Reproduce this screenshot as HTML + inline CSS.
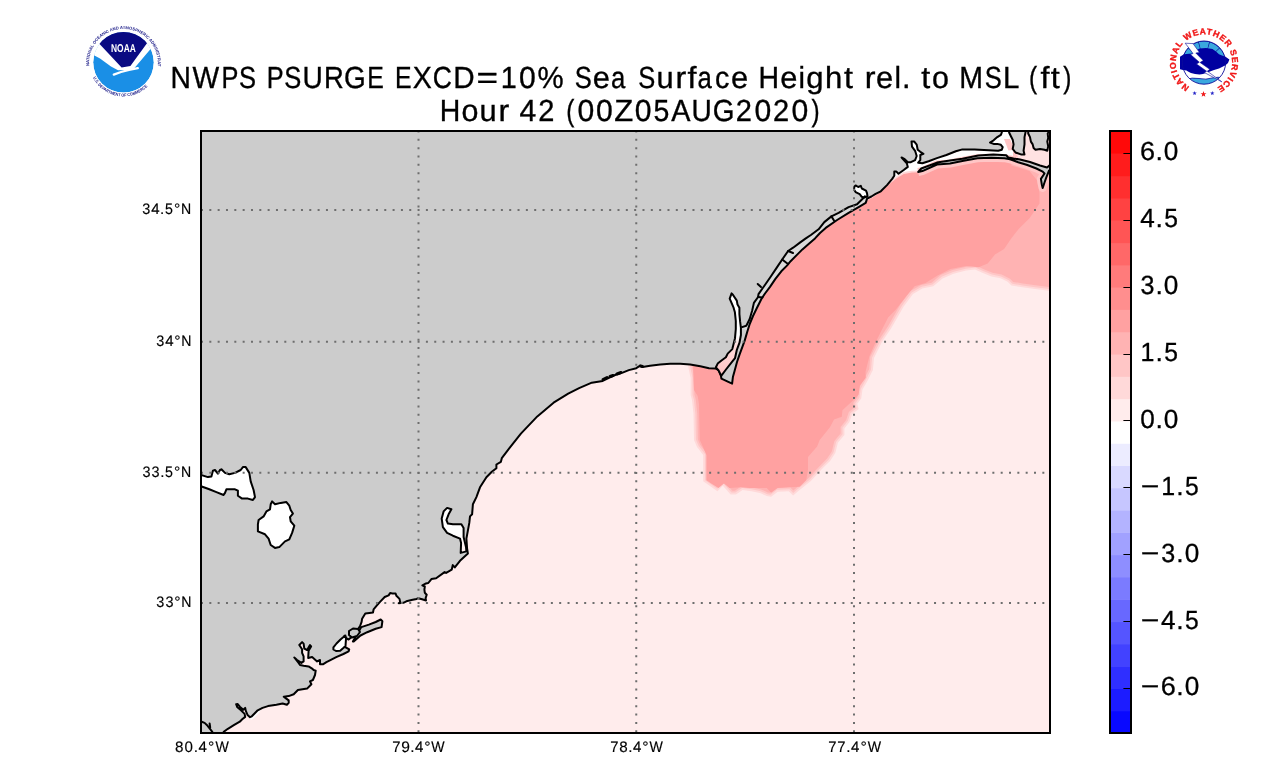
<!DOCTYPE html>
<html><head><meta charset="utf-8"><title>NWPS PSURGE</title><style>html,body{margin:0;padding:0;background:#fff;}svg{display:block;} svg{will-change:transform}</style></head><body>
<svg width="1277" height="770" viewBox="0 0 1277 770" text-rendering="geometricPrecision">
<defs><clipPath id="mc"><rect x="202" y="132" width="847" height="600"/></clipPath><linearGradient id="rv" x1="0" y1="293" x2="0" y2="373" gradientUnits="userSpaceOnUse"><stop offset="0" stop-color="#fff"/><stop offset="0.54" stop-color="#fff"/><stop offset="0.66" stop-color="#ffdcdc"/><stop offset="1" stop-color="#ffc4c4"/></linearGradient><linearGradient id="wb" x1="0" y1="505" x2="0" y2="553" gradientUnits="userSpaceOnUse"><stop offset="0" stop-color="#fff"/><stop offset="0.6" stop-color="#fff"/><stop offset="1" stop-color="#ffecec"/></linearGradient></defs>
<rect width="1277" height="770" fill="#fff"/>
<g clip-path="url(#mc)">
<rect x="200" y="130" width="852" height="605" fill="rgb(255,236,236)"/>
<path d="M688.0,362.0 L688.3,367.0 L690.6,378.0 L690.6,395.0 L692.0,400.0 L693.5,414.0 L694.0,440.0 L697.0,447.0 L703.2,455.0 L703.2,481.3 L710.0,486.0 L717.4,491.2 L722.9,485.7 L730.6,494.5 L736.0,494.5 L742.6,490.1 L751.4,491.2 L760.0,493.0 L766.8,496.1 L771.1,496.7 L777.7,491.7 L788.7,491.2 L793.1,495.6 L799.6,490.1 L810.6,481.3 L821.0,470.0 L824.9,466.1 L830.1,460.9 L835.3,453.1 L837.9,442.7 L844.4,434.9 L844.4,428.4 L849.5,422.0 L852.1,414.2 L858.6,409.0 L857.3,403.8 L861.2,398.6 L862.5,389.5 L867.7,380.4 L872.9,370.0 L874.0,357.9 L881.8,342.3 L891.2,328.3 L897.4,317.4 L903.7,306.4 L913.0,294.0 L922.4,288.5 L933.3,286.2 L942.6,278.4 L953.5,273.7 L966.0,270.6 L975.0,269.5 L982.3,272.7 L991.4,276.4 L1000.5,278.2 L1007.7,281.8 L1011.4,285.5 L1022.3,287.3 L1035.0,289.1 L1049.5,290.9 L1056.0,291.0 L1056.0,120.0 L680.0,120.0 L680.0,362.0 Z" fill="rgb(255,217,217)"/>
<path d="M689.8,360.1 L690.2,366.7 L692.5,377.8 L692.5,394.7 L693.9,399.6 L695.4,413.9 L695.9,439.6 L698.7,446.0 L705.1,454.3 L705.1,480.3 L711.1,484.4 L717.2,488.7 L723.0,482.9 L731.5,492.6 L735.4,492.6 L742.1,488.1 L751.7,489.3 L760.6,491.2 L767.3,494.3 L770.6,494.7 L777.0,489.8 L789.5,489.3 L793.2,493.0 L798.4,488.6 L809.3,479.9 L819.6,468.7 L828.6,459.7 L833.5,452.3 L836.2,441.8 L842.5,434.2 L842.5,427.7 L847.8,421.1 L850.5,413.1 L856.5,408.3 L855.2,403.4 L859.4,397.8 L860.7,388.9 L866.0,379.5 L871.0,369.5 L872.1,357.4 L880.2,341.3 L889.6,327.3 L895.7,316.5 L902.1,305.4 L911.7,292.6 L921.7,286.7 L932.4,284.4 L941.6,276.8 L952.9,271.9 L965.7,268.7 L975.3,267.6 L983.0,270.9 L991.9,274.6 L1001.1,276.4 L1008.8,280.2 L1012.3,283.7 L1022.6,285.4 L1035.3,287.2 L1049.6,289.0 L1054.1,289.1 L1054.1,121.9 L681.9,121.9 L681.9,360.1 L689.8,360.1 Z" fill="rgb(255,198,198)"/>
<path d="M691.6,358.2 L692.1,366.5 L694.4,377.6 L694.4,394.5 L695.7,399.3 L697.3,413.8 L697.8,439.2 L700.3,445.1 L707.0,453.7 L707.0,479.3 L712.2,482.9 L717.0,486.3 L723.1,480.1 L732.3,490.7 L734.8,490.7 L741.7,486.2 L752.0,487.4 L761.2,489.4 L767.9,492.4 L770.1,492.7 L776.3,488.0 L790.2,487.3 L793.3,490.4 L797.2,487.2 L808.0,478.5 L818.3,467.4 L827.1,458.5 L831.8,451.5 L834.4,440.9 L840.6,433.5 L840.6,427.1 L846.1,420.2 L848.8,411.9 L854.3,407.6 L853.2,403.0 L857.6,397.1 L858.8,388.2 L864.3,378.6 L869.2,368.9 L870.3,356.8 L878.5,340.4 L888.0,326.3 L894.1,315.5 L900.5,304.3 L910.4,291.1 L921.0,284.9 L931.6,282.7 L940.6,275.1 L952.3,270.1 L965.3,266.9 L975.6,265.6 L983.8,269.2 L992.5,272.7 L1001.7,274.6 L1010.0,278.7 L1013.2,281.9 L1022.9,283.5 L1035.5,285.3 L1049.8,287.1 L1052.2,287.1 L1052.2,123.8 L683.8,123.8 L683.8,358.2 L691.6,358.2 Z" fill="rgb(255,179,179)"/>
<path d="M693.0,360.0 L693.2,367.0 L693.5,380.0 L694.0,390.0 L697.7,396.0 L699.0,404.0 L699.3,420.0 L699.8,440.0 L703.0,447.0 L706.4,455.0 L706.4,480.2 L712.0,484.0 L718.5,487.9 L724.0,483.5 L729.5,487.9 L740.4,487.3 L749.2,487.9 L766.8,487.9 L771.1,492.8 L777.7,487.9 L788.7,487.3 L799.6,486.8 L806.2,480.2 L808.0,470.0 L808.0,457.0 L817.1,446.6 L819.7,440.1 L830.1,427.1 L834.0,419.4 L841.8,416.8 L842.4,410.3 L850.8,402.5 L858.6,394.7 L859.9,385.6 L865.8,377.8 L865.5,372.0 L869.4,356.3 L875.6,342.3 L883.4,326.7 L888.1,317.4 L895.9,309.6 L906.8,295.5 L914.6,286.2 L925.5,283.1 L938.0,275.3 L950.4,269.0 L966.0,265.9 L978.6,267.3 L987.7,263.6 L995.0,254.5 L1004.1,249.1 L1011.4,238.2 L1018.6,229.1 L1029.5,218.2 L1039.5,203.6 L1039.5,192.7 L1036.8,180.0 L1029.5,170.9 L1011.4,165.5 L1011.0,120.0 L680.0,120.0 L680.0,360.0 Z" fill="rgb(255,161,161)"/>
<path d="M1012.0,126.0 L1056.0,126.0 L1056.0,172.0 L1040.0,166.0 L1013.0,159.0 L1012.0,152.0 Z" fill="#ffe2e2"/>
<path d="M858.0,208.0 L866.0,201.5 L875.7,195.5 L884.0,189.0 L891.3,182.5 L897.0,178.0 L903.8,174.0 L912.0,172.5 L919.5,172.2 L921.0,165.0 L921.0,150.0 L900.0,150.0 L880.0,180.0 L860.0,195.0 Z" fill="rgb(255,217,217)"/>
<path d="M886.0,183.0 L891.3,180.5 L897.0,176.0 L903.8,172.0 L912.0,170.8 L919.5,170.4 L921.0,165.0 L921.0,150.0 L900.0,150.0 L884.0,178.0 Z" fill="#fff"/>
<path d="M249.5,718.5 L254.0,714.5 L258.0,710.8 L261.0,709.5 L259.0,713.0 L255.0,717.0 L251.5,720.0 Z" fill="#fff"/>
<path d="M985.0,126.0 L1012.0,126.0 L1012.0,152.0 L985.0,152.0 Z" fill="#fff"/>
<path d="M1004.0,139.0 L1010.0,139.0 L1018.0,157.0 L1012.0,160.0 Z" fill="rgb(255,198,198)"/>
<path d="M909.0,139.0 L920.0,139.0 L925.0,158.0 L921.0,166.0 L912.0,166.0 Z" fill="#fff"/>
<path d="M916.0,163.0 L930.0,160.0 L946.0,155.5 L962.0,150.0 L975.0,150.0 L989.0,151.0 L1000.0,151.5 L1013.0,150.0 L1013.0,160.0 L1000.0,157.0 L990.0,156.5 L977.0,157.0 L963.0,159.5 L950.0,162.5 L937.0,164.0 L922.0,170.0 Z" fill="#fff"/>
<path d="M223.7,736.0 L223.7,731.8 L227.9,728.8 L233.8,725.2 L239.8,721.7 L242.2,719.3 L245.2,716.9 L244.6,713.9 L241.0,710.3 L237.4,707.3 L236.2,704.3 L237.7,704.0 L239.8,706.7 L243.4,709.7 L245.2,707.9 L245.8,710.9 L247.6,715.1 L250.0,717.2 L251.8,716.3 L254.8,713.3 L257.7,710.3 L262.5,707.9 L268.0,706.1 L276.4,704.8 L282.6,703.5 L286.9,704.8 L288.7,702.9 L288.7,700.4 L286.3,698.6 L283.8,696.7 L288.7,696.1 L293.7,694.3 L297.9,690.0 L307.1,688.6 L311.4,684.3 L310.0,681.4 L312.9,680.0 L315.0,675.0 L315.7,670.7 L313.6,670.0 L312.1,668.6 L308.6,666.4 L303.6,665.7 L300.0,665.0 L298.6,662.9 L294.3,657.5 L297.1,660.0 L301.4,662.9 L303.6,661.4 L303.6,656.4 L302.1,652.9 L302.1,649.3 L299.3,645.0 L302.1,642.1 L303.6,643.6 L304.3,648.6 L307.1,650.0 L310.0,645.0 L311.1,646.4 L308.6,650.7 L308.2,657.9 L312.1,657.1 L317.1,661.4 L320.0,660.0 L320.0,664.3 L322.9,664.3 L326.4,662.1 L329.9,660.3 L336.2,657.1 L343.4,654.0 L348.6,651.4 L349.2,649.4 L346.6,647.8 L344.0,646.5 L344.5,635.8 L346.6,638.4 L348.6,639.5 L351.2,637.4 L351.8,633.2 L353.8,630.6 L358.0,629.1 L360.1,626.0 L361.6,621.8 L362.1,618.7 L365.3,613.5 L369.4,613.0 L373.0,612.5 L373.6,609.4 L376.7,605.7 L379.8,602.1 L384.7,597.0 L388.6,595.4 L390.1,593.1 L392.5,593.5 L395.6,593.5 L396.4,595.8 L399.5,598.9 L400.2,602.1 L398.7,603.2 L403.4,602.8 L407.3,600.9 L412.7,599.7 L416.6,598.9 L418.2,598.2 L422.1,599.3 L426.0,600.5 L425.6,598.2 L426.7,594.7 L424.8,592.7 L424.4,589.6 L424.8,586.5 L422.4,585.3 L426.0,583.4 L428.3,583.0 L431.4,579.1 L436.1,578.3 L444.6,572.1 L446.2,572.9 L451.7,569.7 L452.8,565.1 L454.8,567.4 L460.0,560.8 L467.9,553.6 L467.1,548.6 L466.4,538.6 L469.3,522.9 L470.0,516.4 L472.1,514.3 L472.9,504.3 L476.4,497.1 L480.0,487.3 L486.4,477.3 L491.8,471.8 L496.4,468.2 L496.4,464.5 L500.9,461.8 L501.8,458.2 L510.0,447.3 L520.9,433.6 L537.3,416.4 L553.6,402.7 L568.2,393.6 L579.1,388.2 L591.8,382.7 L602.7,380.9 L610.0,377.3 L616.3,374.5 L622.6,372.6 L628.8,370.1 L636.3,368.2 L640.1,365.7 L642.6,367.0 L650.1,365.7 L660.2,364.5 L670.2,363.8 L680.2,363.8 L690.2,364.5 L700.3,366.3 L709.0,368.2 L715.7,368.6 L718.6,370.0 L721.0,376.0 L721.4,378.6 L732.1,383.6 L732.9,377.1 L734.5,371.3 L737.0,362.0 L739.6,354.4 L744.6,340.9 L747.5,331.0 L749.7,324.0 L753.0,316.0 L756.5,308.8 L761.5,298.7 L765.0,293.5 L770.0,286.9 L775.4,278.9 L781.3,271.3 L787.2,265.4 L790.6,261.2 L797.4,254.4 L802.4,249.4 L809.2,243.4 L815.0,238.4 L820.0,233.0 L825.7,227.9 L837.1,220.0 L848.6,212.9 L858.6,207.1 L865.7,202.9 L867.1,198.6 L871.4,196.5 L875.6,193.9 L880.8,191.3 L887.0,185.1 L892.2,178.9 L894.3,175.7 L894.3,171.6 L896.4,171.6 L898.5,173.7 L903.7,170.0 L907.8,166.9 L906.8,163.3 L901.6,157.5 L904.7,159.1 L907.8,162.2 L910.9,162.2 L915.1,160.1 L916.7,156.0 L915.1,150.8 L912.0,146.6 L911.5,141.4 L914.1,141.4 L916.7,144.6 L917.7,149.8 L920.3,151.8 L923.4,153.9 L920.3,155.0 L920.3,160.1 L918.2,162.7 L922.4,163.3 L928.6,161.2 L936.9,158.1 L946.4,155.0 L955.8,151.3 L962.4,149.4 L974.6,149.4 L988.7,150.3 L998.2,150.7 L1001.8,149.8 L1002.7,147.1 L1000.9,144.8 L997.3,143.9 L993.6,143.9 L990.0,142.5 L993.6,140.3 L997.3,137.1 L1000.9,134.8 L1001.8,132.5 L1002.0,126.0 L1009.1,126.0 L1009.1,132.5 L1010.9,136.2 L1012.7,139.8 L1013.6,144.4 L1012.7,148.9 L1015.5,152.5 L1020.9,154.4 L1024.5,154.4 L1023.6,150.7 L1024.5,144.4 L1024.5,137.1 L1025.5,132.5 L1025.5,126.0 L1028.2,126.0 L1028.2,133.5 L1030.0,137.1 L1030.9,141.6 L1032.7,144.4 L1033.6,148.0 L1035.5,149.8 L1040.0,148.9 L1044.5,149.8 L1047.3,150.7 L1048.2,146.2 L1047.3,141.6 L1048.2,138.0 L1047.7,133.5 L1049.0,131.6 L1056.0,131.6 L1056.0,120.0 L190.0,120.0 L190.0,736.0 Z" fill="#cccccc"/>
<path d="M741.3,327.4 L746.3,325.7 L749.7,319.0 L752.2,310.5 L753.9,302.9 L758.1,297.0 L758.5,294.1 L764.4,285.7 L770.3,277.2 L777.1,267.1 L782.2,259.5 L788.1,251.0 L793.1,247.7 L799.9,242.6 L805.8,238.4 L810.9,235.0 L818.6,229.3 L824.3,222.1 L831.4,216.4 L838.6,212.9 L848.6,207.1 L857.1,204.3 L861.4,200.0 L865.7,195.7 L867.1,198.6 L865.7,202.9 L858.6,207.1 L848.6,212.9 L837.1,220.0 L825.7,227.9 L820.0,233.0 L815.0,238.4 L809.2,243.4 L802.4,249.4 L797.4,254.4 L790.6,261.2 L787.2,265.4 L781.3,271.3 L775.4,278.9 L770.0,286.9 L765.0,293.5 L761.5,298.7 L756.5,308.8 L753.0,316.0 L749.7,324.0 L747.5,331.0 Z" fill="#dadada"/>
<path d="M223.7,736.0 L223.7,731.8 L227.9,728.8 L233.8,725.2 L239.8,721.7 L242.2,719.3 L245.2,716.9 L244.6,713.9 L241.0,710.3 L237.4,707.3 L236.2,704.3 L237.7,704.0 L239.8,706.7 L243.4,709.7 L245.2,707.9 L245.8,710.9 L247.6,715.1 L250.0,717.2 L251.8,716.3 L254.8,713.3 L257.7,710.3 L262.5,707.9 L268.0,706.1 L276.4,704.8 L282.6,703.5 L286.9,704.8 L288.7,702.9 L288.7,700.4 L286.3,698.6 L283.8,696.7 L288.7,696.1 L293.7,694.3 L297.9,690.0 L307.1,688.6 L311.4,684.3 L310.0,681.4 L312.9,680.0 L315.0,675.0 L315.7,670.7 L313.6,670.0 L312.1,668.6 L308.6,666.4 L303.6,665.7 L300.0,665.0 L298.6,662.9 L294.3,657.5 L297.1,660.0 L301.4,662.9 L303.6,661.4 L303.6,656.4 L302.1,652.9 L302.1,649.3 L299.3,645.0 L302.1,642.1 L303.6,643.6 L304.3,648.6 L307.1,650.0 L310.0,645.0 L311.1,646.4 L308.6,650.7 L308.2,657.9 L312.1,657.1 L317.1,661.4 L320.0,660.0 L320.0,664.3 L322.9,664.3 L326.4,662.1 L329.9,660.3 L336.2,657.1 L343.4,654.0 L348.6,651.4 L349.2,649.4 L346.6,647.8 L344.0,646.5 L344.5,635.8 L346.6,638.4 L348.6,639.5 L351.2,637.4 L351.8,633.2 L353.8,630.6 L358.0,629.1 L360.1,626.0 L361.6,621.8 L362.1,618.7 L365.3,613.5 L369.4,613.0 L373.0,612.5 L373.6,609.4 L376.7,605.7 L379.8,602.1 L384.7,597.0 L388.6,595.4 L390.1,593.1 L392.5,593.5 L395.6,593.5 L396.4,595.8 L399.5,598.9 L400.2,602.1 L398.7,603.2 L403.4,602.8 L407.3,600.9 L412.7,599.7 L416.6,598.9 L418.2,598.2 L422.1,599.3 L426.0,600.5 L425.6,598.2 L426.7,594.7 L424.8,592.7 L424.4,589.6 L424.8,586.5 L422.4,585.3 L426.0,583.4 L428.3,583.0 L431.4,579.1 L436.1,578.3 L444.6,572.1 L446.2,572.9 L451.7,569.7 L452.8,565.1 L454.8,567.4 L460.0,560.8 L467.9,553.6 L467.1,548.6 L466.4,538.6 L469.3,522.9 L470.0,516.4 L472.1,514.3 L472.9,504.3 L476.4,497.1 L480.0,487.3 L486.4,477.3 L491.8,471.8 L496.4,468.2 L496.4,464.5 L500.9,461.8 L501.8,458.2 L510.0,447.3 L520.9,433.6 L537.3,416.4 L553.6,402.7 L568.2,393.6 L579.1,388.2 L591.8,382.7 L602.7,380.9 L610.0,377.3 L616.3,374.5 L622.6,372.6 L628.8,370.1 L636.3,368.2 L640.1,365.7 L642.6,367.0 L650.1,365.7 L660.2,364.5 L670.2,363.8 L680.2,363.8 L690.2,364.5 L700.3,366.3 L709.0,368.2 L715.7,368.6 L718.6,370.0 L721.0,376.0 L721.4,378.6 L732.1,383.6 L732.9,377.1 L734.5,371.3 L737.0,362.0 L739.6,354.4 L744.6,340.9 L747.5,331.0 L749.7,324.0 L753.0,316.0 L756.5,308.8 L761.5,298.7 L765.0,293.5 L770.0,286.9 L775.4,278.9 L781.3,271.3 L787.2,265.4 L790.6,261.2 L797.4,254.4 L802.4,249.4 L809.2,243.4 L815.0,238.4 L820.0,233.0 L825.7,227.9 L837.1,220.0 L848.6,212.9 L858.6,207.1 L865.7,202.9 L867.1,198.6 L871.4,196.5 L875.6,193.9 L880.8,191.3 L887.0,185.1 L892.2,178.9 L894.3,175.7 L894.3,171.6 L896.4,171.6 L898.5,173.7 L903.7,170.0 L907.8,166.9 L906.8,163.3 L901.6,157.5 L904.7,159.1 L907.8,162.2 L910.9,162.2 L915.1,160.1 L916.7,156.0 L915.1,150.8 L912.0,146.6 L911.5,141.4 L914.1,141.4 L916.7,144.6 L917.7,149.8 L920.3,151.8 L923.4,153.9 L920.3,155.0 L920.3,160.1 L918.2,162.7 L922.4,163.3 L928.6,161.2 L936.9,158.1 L946.4,155.0 L955.8,151.3 L962.4,149.4 L974.6,149.4 L988.7,150.3 L998.2,150.7 L1001.8,149.8 L1002.7,147.1 L1000.9,144.8 L997.3,143.9 L993.6,143.9 L990.0,142.5 L993.6,140.3 L997.3,137.1 L1000.9,134.8 L1001.8,132.5 L1002.0,126.0 L1009.1,126.0 L1009.1,132.5 L1010.9,136.2 L1012.7,139.8 L1013.6,144.4 L1012.7,148.9 L1015.5,152.5 L1020.9,154.4 L1024.5,154.4 L1023.6,150.7 L1024.5,144.4 L1024.5,137.1 L1025.5,132.5 L1025.5,126.0 L1028.2,126.0 L1028.2,133.5 L1030.0,137.1 L1030.9,141.6 L1032.7,144.4 L1033.6,148.0 L1035.5,149.8 L1040.0,148.9 L1044.5,149.8 L1047.3,150.7 L1048.2,146.2 L1047.3,141.6 L1048.2,138.0 L1047.7,133.5 L1049.0,131.6 L1056.0,131.6 L1056.0,120.0 L190.0,120.0 L190.0,736.0 Z" fill="none" stroke="#000" stroke-width="2" stroke-linejoin="round"/>
<path d="M782.2,259.5 L788.0,264.0" fill="none" stroke="#000" stroke-width="2" stroke-linecap="round"/>
<path d="M758.1,297.0 L762.5,297.5" fill="none" stroke="#000" stroke-width="2" stroke-linecap="round"/>
<path d="M788.1,251.0 L793.0,253.0" fill="none" stroke="#000" stroke-width="2" stroke-linecap="round"/>
<path d="M757.7,284.0 L761.0,287.0" fill="none" stroke="#000" stroke-width="2" stroke-linecap="round"/>
<path d="M831.4,216.4 L834.0,220.5" fill="none" stroke="#000" stroke-width="2" stroke-linecap="round"/>
<path d="M345.5,646.0 L343.6,647.8 L340.2,650.7 L336.0,651.0 L333.4,649.5 L333.4,647.4 L336.5,643.5 L340.5,639.5 L345.3,635.5 L346.0,638.9 Z" fill="#fff" stroke="#000" stroke-width="2" stroke-linejoin="round"/>
<path d="M352.9,641.5 L356.0,636.0 L361.3,627.1 L368.9,624.6 L375.7,622.0 L380.7,619.5 L382.4,621.2 L381.6,627.1 L375.7,628.8 L367.2,632.2 L360.5,635.5 L353.7,641.5 Z" fill="#cccccc" stroke="#000" stroke-width="2" stroke-linejoin="round"/>
<path d="M349.0,631.0 L353.0,628.5 L358.0,629.0 L360.0,632.0 L357.0,636.0 L352.0,637.5 L349.0,635.0 Z" fill="#cccccc" stroke="#000" stroke-width="2" stroke-linejoin="round"/>
<path d="M466.4,551.4 L460.7,552.9 L461.1,542.9 L460.0,538.6 L452.9,535.7 L447.1,532.9 L442.9,527.1 L441.7,518.6 L443.6,511.4 L447.1,507.9 L451.4,509.3 L448.6,514.3 L446.4,520.0 L447.9,523.6 L452.9,524.3 L461.4,524.3 L463.6,527.9 L463.6,537.1 L466.0,547.0 Z" fill="url(#wb)" stroke="#000" stroke-width="2" stroke-linejoin="round"/>
<path d="M718.6,370.5 L715.9,367.3 L717.7,363.6 L721.5,360.5 L725.9,357.3 L727.7,353.6 L732.3,349.1 L733.2,345.5 L735.0,338.2 L735.8,329.0 L735.8,321.0 L734.9,312.3 L733.6,307.7 L729.7,298.6 L731.6,293.4 L732.9,294.7 L736.8,300.6 L737.5,304.5 L739.4,307.7 L739.4,314.2 L740.1,321.4 L740.9,328.0 L740.9,335.0 L739.5,342.7 L736.8,350.0 L735.0,358.2 L731.4,362.7 L726.0,369.5 L721.2,375.8 Z" fill="url(#rv)" stroke="#000" stroke-width="2" stroke-linejoin="round"/>
<path d="M1056.0,172.0 L1049.1,170.5 L1046.4,177.1 L1044.5,182.5 L1042.7,188.0 L1041.8,184.4 L1040.9,178.9 L1044.5,173.5 L1042.7,171.6 L1036.4,168.5 L1027.3,165.0 L1018.2,162.2 L1013.6,160.5 L1010.0,159.3 L1004.5,158.2 L990.9,157.8 L977.3,158.2 L963.6,160.8 L950.0,163.5 L937.0,164.5 L922.4,171.1 L918.2,172.0" fill="none" stroke="rgb(255,198,198)" stroke-width="8" stroke-linejoin="round"/>
<path d="M918.2,172.0 L921.3,168.5 L936.9,162.6 L950.0,160.5 L962.4,158.8 L978.3,155.5 L993.4,154.6 L1006.4,155.3 L1008.2,157.5 L1013.6,158.5 L1020.0,159.5 L1030.0,162.0 L1040.0,165.5 L1047.0,167.5 L1056.0,160.0 L1056.0,172.0 L1049.1,170.5 L1046.4,177.1 L1044.5,182.5 L1042.7,188.0 L1041.8,184.4 L1040.9,178.9 L1044.5,173.5 L1042.7,171.6 L1036.4,168.5 L1027.3,165.0 L1018.2,162.2 L1013.6,160.5 L1010.0,159.3 L1004.5,158.2 L990.9,157.8 L977.3,158.2 L963.6,160.8 L950.0,163.5 L937.0,164.5 L922.4,171.1 Z" fill="#cccccc" stroke="#000" stroke-width="2" stroke-linejoin="round"/>
<path d="M854.5,186.4 L855.6,185.4 L858.2,187.0 L860.8,185.9 L861.8,188.5 L866.0,190.6 L867.0,193.2 L867.5,196.5 L864.0,197.5 L861.8,196.8 L859.7,194.2 L855.6,192.1 L854.0,189.5 Z" fill="#fff" stroke="#000" stroke-width="2" stroke-linejoin="round"/>
<path d="M741.3,327.4 L746.3,325.7 L749.7,319.0 L752.2,310.5 L753.9,302.9 L758.1,297.0 L758.5,294.1 L764.4,285.7 L770.3,277.2 L777.1,267.1 L782.2,259.5 L788.1,251.0 L793.1,247.7 L799.9,242.6 L805.8,238.4 L810.9,235.0 L818.6,229.3 L824.3,222.1 L831.4,216.4 L838.6,212.9 L848.6,207.1 L857.1,204.3 L861.4,200.0 L865.7,195.7" fill="none" stroke="#000" stroke-width="2" stroke-linejoin="round"/>
<path d="M200.0,721.5 L201.6,721.7 L204.6,722.9 L207.6,725.8 L210.0,728.8 L212.3,731.8 L213.0,735.0" fill="none" stroke="#000" stroke-width="2" stroke-linejoin="round"/>
<path d="M209.6,723.5 L210.2,727.5" fill="none" stroke="#000" stroke-width="2" stroke-linecap="round"/>
<path d="M603.0,379.5 L607.0,377.5" fill="none" stroke="#000" stroke-width="3" stroke-linecap="round"/>
<path d="M610.0,376.5 L613.0,375.5" fill="none" stroke="#000" stroke-width="3" stroke-linecap="round"/>
<path d="M617.0,374.0 L621.0,372.5" fill="none" stroke="#000" stroke-width="3" stroke-linecap="round"/>
<path d="M640.5,366.0 L642.5,366.5" fill="none" stroke="#000" stroke-width="3" stroke-linecap="round"/>
<path d="M198.0,475.0 L201.4,475.0 L207.9,477.1 L211.4,476.4 L212.9,470.7 L215.0,470.0 L217.9,473.6 L220.0,470.0 L221.4,469.3 L225.0,472.9 L229.3,474.3 L235.0,472.9 L240.7,470.0 L242.9,467.1 L245.7,467.1 L249.3,472.9 L250.7,481.4 L253.6,490.0 L255.0,497.1 L252.9,500.0 L247.9,498.6 L242.1,498.6 L237.9,495.7 L237.9,490.7 L235.0,489.3 L226.4,489.3 L225.0,492.9 L223.6,495.0 L216.4,492.1 L209.3,489.3 L201.4,486.4 L198.0,485.0 Z" fill="#fff" stroke="#000" stroke-width="2" stroke-linejoin="round"/>
<path d="M272.1,501.4 L275.0,504.3 L280.7,502.9 L286.4,502.1 L289.3,505.7 L290.7,510.0 L292.9,513.6 L290.0,517.1 L290.7,521.4 L294.3,525.7 L292.1,532.9 L289.3,539.3 L285.0,541.4 L279.3,547.1 L275.0,547.9 L270.7,545.0 L268.6,538.6 L265.0,534.3 L257.9,531.4 L257.9,524.3 L258.6,520.0 L263.6,516.4 L266.4,511.4 L270.0,509.3 L270.7,504.3 Z" fill="#fff" stroke="#000" stroke-width="2" stroke-linejoin="round"/>
<g stroke="#6e6e6e" stroke-width="2" stroke-dasharray="2 6.33"><line x1="418.5" y1="130.5" x2="418.5" y2="733" /><line x1="636.25" y1="130.5" x2="636.25" y2="733" /><line x1="854" y1="130.5" x2="854" y2="733" /><line x1="201" y1="210" x2="1050" y2="210" /><line x1="201" y1="341.7" x2="1050" y2="341.7" /><line x1="201" y1="472.7" x2="1050" y2="472.7" /><line x1="201" y1="602.9" x2="1050" y2="602.9" /></g>
</g>
<rect x="201" y="131" width="849" height="602" fill="none" stroke="#000" stroke-width="2"/>
<rect x="1110" y="710.70" width="21" height="22.90" fill="rgb(9,9,255)"/><rect x="1110" y="688.41" width="21" height="22.90" fill="rgb(28,28,255)"/><rect x="1110" y="666.11" width="21" height="22.90" fill="rgb(47,47,255)"/><rect x="1110" y="643.81" width="21" height="22.90" fill="rgb(66,66,255)"/><rect x="1110" y="621.52" width="21" height="22.90" fill="rgb(85,85,255)"/><rect x="1110" y="599.22" width="21" height="22.90" fill="rgb(104,104,255)"/><rect x="1110" y="576.93" width="21" height="22.90" fill="rgb(123,123,255)"/><rect x="1110" y="554.63" width="21" height="22.90" fill="rgb(142,142,255)"/><rect x="1110" y="532.33" width="21" height="22.90" fill="rgb(161,161,255)"/><rect x="1110" y="510.04" width="21" height="22.90" fill="rgb(179,179,255)"/><rect x="1110" y="487.74" width="21" height="22.90" fill="rgb(198,198,255)"/><rect x="1110" y="465.44" width="21" height="22.90" fill="rgb(217,217,255)"/><rect x="1110" y="443.15" width="21" height="22.90" fill="rgb(236,236,255)"/><rect x="1110" y="420.85" width="21" height="22.90" fill="rgb(255,255,255)"/><rect x="1110" y="398.56" width="21" height="22.90" fill="rgb(255,236,236)"/><rect x="1110" y="376.26" width="21" height="22.90" fill="rgb(255,217,217)"/><rect x="1110" y="353.96" width="21" height="22.90" fill="rgb(255,198,198)"/><rect x="1110" y="331.67" width="21" height="22.90" fill="rgb(255,179,179)"/><rect x="1110" y="309.37" width="21" height="22.90" fill="rgb(255,161,161)"/><rect x="1110" y="287.07" width="21" height="22.90" fill="rgb(255,142,142)"/><rect x="1110" y="264.78" width="21" height="22.90" fill="rgb(255,123,123)"/><rect x="1110" y="242.48" width="21" height="22.90" fill="rgb(255,104,104)"/><rect x="1110" y="220.19" width="21" height="22.90" fill="rgb(255,85,85)"/><rect x="1110" y="197.89" width="21" height="22.90" fill="rgb(255,66,66)"/><rect x="1110" y="175.59" width="21" height="22.90" fill="rgb(255,47,47)"/><rect x="1110" y="153.30" width="21" height="22.90" fill="rgb(255,28,28)"/><rect x="1110" y="131.00" width="21" height="22.90" fill="rgb(255,9,9)"/>
<line x1="1123.4" y1="153.50" x2="1131" y2="153.50" stroke="#000" stroke-width="1"/><line x1="1123.4" y1="220.50" x2="1131" y2="220.50" stroke="#000" stroke-width="1"/><line x1="1123.4" y1="287.50" x2="1131" y2="287.50" stroke="#000" stroke-width="1"/><line x1="1123.4" y1="354.50" x2="1131" y2="354.50" stroke="#000" stroke-width="1"/><line x1="1123.4" y1="420.50" x2="1131" y2="420.50" stroke="#000" stroke-width="1"/><line x1="1123.4" y1="487.50" x2="1131" y2="487.50" stroke="#000" stroke-width="1"/><line x1="1123.4" y1="554.50" x2="1131" y2="554.50" stroke="#000" stroke-width="1"/><line x1="1123.4" y1="621.50" x2="1131" y2="621.50" stroke="#000" stroke-width="1"/><line x1="1123.4" y1="688.50" x2="1131" y2="688.50" stroke="#000" stroke-width="1"/>
<rect x="1110" y="131" width="21" height="602" fill="none" stroke="#000" stroke-width="2"/>
<g font-family="'Liberation Sans', sans-serif" font-size="26.29" stroke="#000" stroke-width="0.3"><text transform="matrix(1.0293,0,0,1,1139.93,0)" y="160.30">6</text><text transform="matrix(1.0122,0,0,1,1155.58,0)" y="160.30">.</text><text transform="matrix(0.9947,0,0,1,1163.85,0)" y="160.30">0</text></g>
<g font-family="'Liberation Sans', sans-serif" font-size="26.29" stroke="#000" stroke-width="0.3"><text transform="matrix(0.9939,0,0,1,1140.18,0)" y="227.19">4</text><text transform="matrix(1.0122,0,0,1,1155.58,0)" y="227.19">.</text><text transform="matrix(0.9394,0,0,1,1164.15,0)" y="227.19">5</text></g>
<g font-family="'Liberation Sans', sans-serif" font-size="26.29" stroke="#000" stroke-width="0.3"><text transform="matrix(0.9553,0,0,1,1140.50,0)" y="294.07">3</text><text transform="matrix(1.0122,0,0,1,1155.58,0)" y="294.07">.</text><text transform="matrix(0.9947,0,0,1,1163.85,0)" y="294.07">0</text></g>
<g font-family="'Liberation Sans', sans-serif" font-size="26.29" stroke="#000" stroke-width="0.3"><text transform="matrix(0.9500,0,0,1,1140.40,0)" y="360.96">1</text><text transform="matrix(1.0122,0,0,1,1155.58,0)" y="360.96">.</text><text transform="matrix(0.9394,0,0,1,1164.15,0)" y="360.96">5</text></g>
<g font-family="'Liberation Sans', sans-serif" font-size="26.29" stroke="#000" stroke-width="0.3"><text transform="matrix(0.9947,0,0,1,1140.19,0)" y="427.85">0</text><text transform="matrix(1.0122,0,0,1,1155.58,0)" y="427.85">.</text><text transform="matrix(0.9947,0,0,1,1163.85,0)" y="427.85">0</text></g>
<g font-family="'Liberation Sans', sans-serif" font-size="26.29" stroke="#000" stroke-width="0.3"><text transform="matrix(1.2152,0,0,1,1140.63,0)" y="494.74">−</text><text transform="matrix(0.9500,0,0,1,1161.18,0)" y="494.74">1</text><text transform="matrix(1.0122,0,0,1,1176.36,0)" y="494.74">.</text><text transform="matrix(0.9394,0,0,1,1184.93,0)" y="494.74">5</text></g>
<g font-family="'Liberation Sans', sans-serif" font-size="26.29" stroke="#000" stroke-width="0.3"><text transform="matrix(1.2152,0,0,1,1140.63,0)" y="561.63">−</text><text transform="matrix(0.9553,0,0,1,1161.28,0)" y="561.63">3</text><text transform="matrix(1.0122,0,0,1,1176.36,0)" y="561.63">.</text><text transform="matrix(0.9947,0,0,1,1184.63,0)" y="561.63">0</text></g>
<g font-family="'Liberation Sans', sans-serif" font-size="26.29" stroke="#000" stroke-width="0.3"><text transform="matrix(1.2152,0,0,1,1140.63,0)" y="628.52">−</text><text transform="matrix(0.9939,0,0,1,1160.97,0)" y="628.52">4</text><text transform="matrix(1.0122,0,0,1,1176.36,0)" y="628.52">.</text><text transform="matrix(0.9394,0,0,1,1184.93,0)" y="628.52">5</text></g>
<g font-family="'Liberation Sans', sans-serif" font-size="26.29" stroke="#000" stroke-width="0.3"><text transform="matrix(1.2152,0,0,1,1140.63,0)" y="695.41">−</text><text transform="matrix(1.0293,0,0,1,1160.71,0)" y="695.41">6</text><text transform="matrix(1.0122,0,0,1,1176.36,0)" y="695.41">.</text><text transform="matrix(0.9947,0,0,1,1184.63,0)" y="695.41">0</text></g>
<g font-family="'Liberation Sans', sans-serif" font-size="15.13" stroke="#000" stroke-width="0.15"><text transform="matrix(0.9553,0,0,1,142.35,0)" y="214.20">3</text><text transform="matrix(0.9939,0,0,1,151.25,0)" y="214.20">4</text><text transform="matrix(1.0122,0,0,1,160.10,0)" y="214.20">.</text><text transform="matrix(0.9394,0,0,1,165.04,0)" y="214.20">5</text><text transform="matrix(1.0445,0,0,1,174.00,0)" y="214.20">°</text><text transform="matrix(0.9316,0,0,1,180.97,0)" y="214.20">N</text></g>
<g font-family="'Liberation Sans', sans-serif" font-size="15.13" stroke="#000" stroke-width="0.15"><text transform="matrix(0.9553,0,0,1,156.35,0)" y="346.00">3</text><text transform="matrix(0.9939,0,0,1,165.18,0)" y="346.00">4</text><text transform="matrix(1.0445,0,0,1,174.25,0)" y="346.00">°</text><text transform="matrix(0.9316,0,0,1,181.17,0)" y="346.00">N</text></g>
<g font-family="'Liberation Sans', sans-serif" font-size="15.13" stroke="#000" stroke-width="0.15"><text transform="matrix(0.9553,0,0,1,142.40,0)" y="477.00">3</text><text transform="matrix(0.9553,0,0,1,151.48,0)" y="477.00">3</text><text transform="matrix(1.0122,0,0,1,160.15,0)" y="477.00">.</text><text transform="matrix(0.9394,0,0,1,165.08,0)" y="477.00">5</text><text transform="matrix(1.0445,0,0,1,174.04,0)" y="477.00">°</text><text transform="matrix(0.9316,0,0,1,181.01,0)" y="477.00">N</text></g>
<g font-family="'Liberation Sans', sans-serif" font-size="15.13" stroke="#000" stroke-width="0.15"><text transform="matrix(0.9553,0,0,1,156.35,0)" y="607.00">3</text><text transform="matrix(0.9553,0,0,1,165.40,0)" y="607.00">3</text><text transform="matrix(1.0445,0,0,1,174.32,0)" y="607.00">°</text><text transform="matrix(0.9316,0,0,1,181.27,0)" y="607.00">N</text></g>
<g font-family="'Liberation Sans', sans-serif" font-size="15.16" stroke="#000" stroke-width="0.15"><text transform="matrix(1.0036,0,0,1,175.05,0)" y="751.70">8</text><text transform="matrix(0.9947,0,0,1,184.49,0)" y="751.70">0</text><text transform="matrix(1.0122,0,0,1,193.67,0)" y="751.70">.</text><text transform="matrix(0.9939,0,0,1,198.59,0)" y="751.70">4</text><text transform="matrix(1.0445,0,0,1,208.05,0)" y="751.70">°</text><text transform="matrix(0.9313,0,0,1,215.43,0)" y="751.70">W</text></g>
<g font-family="'Liberation Sans', sans-serif" font-size="15.16" stroke="#000" stroke-width="0.15"><text transform="matrix(0.9724,0,0,1,392.30,0)" y="751.70">7</text><text transform="matrix(1.0271,0,0,1,401.16,0)" y="751.70">9</text><text transform="matrix(1.0122,0,0,1,410.23,0)" y="751.70">.</text><text transform="matrix(0.9939,0,0,1,415.01,0)" y="751.70">4</text><text transform="matrix(1.0445,0,0,1,424.17,0)" y="751.70">°</text><text transform="matrix(0.9313,0,0,1,431.33,0)" y="751.70">W</text></g>
<g font-family="'Liberation Sans', sans-serif" font-size="15.16" stroke="#000" stroke-width="0.15"><text transform="matrix(0.9724,0,0,1,610.15,0)" y="751.70">7</text><text transform="matrix(1.0036,0,0,1,619.22,0)" y="751.70">8</text><text transform="matrix(1.0122,0,0,1,628.20,0)" y="751.70">.</text><text transform="matrix(0.9939,0,0,1,633.01,0)" y="751.70">4</text><text transform="matrix(1.0445,0,0,1,642.23,0)" y="751.70">°</text><text transform="matrix(0.9313,0,0,1,649.43,0)" y="751.70">W</text></g>
<g font-family="'Liberation Sans', sans-serif" font-size="15.16" stroke="#000" stroke-width="0.15"><text transform="matrix(0.9724,0,0,1,828.15,0)" y="751.70">7</text><text transform="matrix(0.9724,0,0,1,837.36,0)" y="751.70">7</text><text transform="matrix(1.0122,0,0,1,846.29,0)" y="751.70">.</text><text transform="matrix(0.9939,0,0,1,851.12,0)" y="751.70">4</text><text transform="matrix(1.0445,0,0,1,860.39,0)" y="751.70">°</text><text transform="matrix(0.9313,0,0,1,867.63,0)" y="751.70">W</text></g>
<g font-family="'Liberation Sans', sans-serif" font-size="30.50" stroke="#000" stroke-width="0.35"><text transform="matrix(0.9260,0,0,1,170.48,0)" y="87.85">N</text><text transform="matrix(0.9257,0,0,1,192.62,0)" y="87.85">W</text><text transform="matrix(0.8302,0,0,1,221.40,0)" y="87.85">P</text><text transform="matrix(0.8366,0,0,1,238.98,0)" y="87.85">S</text><text transform="matrix(0.8302,0,0,1,266.79,0)" y="87.85">P</text><text transform="matrix(0.8366,0,0,1,284.37,0)" y="87.85">S</text><text transform="matrix(0.9212,0,0,1,302.51,0)" y="87.85">U</text><text transform="matrix(0.8982,0,0,1,324.10,0)" y="87.85">R</text><text transform="matrix(0.9147,0,0,1,344.02,0)" y="87.85">G</text><text transform="matrix(0.8131,0,0,1,367.20,0)" y="87.85">E</text><text transform="matrix(0.8131,0,0,1,394.91,0)" y="87.85">E</text><text transform="matrix(0.9377,0,0,1,412.78,0)" y="87.85">X</text><text transform="matrix(0.8710,0,0,1,432.81,0)" y="87.85">C</text><text transform="matrix(0.9710,0,0,1,453.30,0)" y="87.85">D</text><text transform="matrix(1.2078,0,0,1,476.62,0)" y="87.85">=</text><text transform="matrix(0.9442,0,0,1,500.80,0)" y="87.85">1</text><text transform="matrix(0.9887,0,0,1,519.11,0)" y="87.85">0</text><text transform="matrix(0.9629,0,0,1,537.46,0)" y="87.85">%</text><text transform="matrix(0.8366,0,0,1,574.65,0)" y="87.85">S</text><text transform="matrix(1.0115,0,0,1,592.74,0)" y="87.85">e</text><text transform="matrix(0.8428,0,0,1,611.04,0)" y="87.85">a</text><text transform="matrix(0.8366,0,0,1,638.28,0)" y="87.85">S</text><text transform="matrix(1.0105,0,0,1,656.52,0)" y="87.85">u</text><text transform="matrix(1.0600,0,0,1,675.59,0)" y="87.85">r</text><text transform="matrix(1.0600,0,0,1,687.48,0)" y="87.85">f</text><text transform="matrix(0.8428,0,0,1,697.49,0)" y="87.85">a</text><text transform="matrix(0.9399,0,0,1,715.10,0)" y="87.85">c</text><text transform="matrix(1.0115,0,0,1,731.06,0)" y="87.85">e</text><text transform="matrix(0.9327,0,0,1,758.47,0)" y="87.85">H</text><text transform="matrix(1.0115,0,0,1,780.22,0)" y="87.85">e</text><text transform="matrix(0.9590,0,0,1,798.61,0)" y="87.85">i</text><text transform="matrix(1.0190,0,0,1,806.26,0)" y="87.85">g</text><text transform="matrix(1.0177,0,0,1,824.98,0)" y="87.85">h</text><text transform="matrix(1.0600,0,0,1,844.04,0)" y="87.85">t</text><text transform="matrix(1.0600,0,0,1,864.73,0)" y="87.85">r</text><text transform="matrix(1.0115,0,0,1,875.99,0)" y="87.85">e</text><text transform="matrix(0.9590,0,0,1,894.39,0)" y="87.85">l</text><text transform="matrix(1.0061,0,0,1,902.04,0)" y="87.85">.</text><text transform="matrix(1.0600,0,0,1,921.35,0)" y="87.85">t</text><text transform="matrix(0.9973,0,0,1,932.06,0)" y="87.85">o</text><text transform="matrix(0.9349,0,0,1,959.36,0)" y="87.85">M</text><text transform="matrix(0.8366,0,0,1,984.78,0)" y="87.85">S</text><text transform="matrix(0.9653,0,0,1,1002.98,0)" y="87.85">L</text><text transform="matrix(0.8000,0,0,1,1029.04,0)" y="87.85">(</text><text transform="matrix(1.0600,0,0,1,1040.40,0)" y="87.85">f</text><text transform="matrix(1.0600,0,0,1,1050.79,0)" y="87.85">t</text><text transform="matrix(0.8000,0,0,1,1063.32,0)" y="87.85">)</text></g>
<g font-family="'Liberation Sans', sans-serif" font-size="30.50" stroke="#000" stroke-width="0.35"><text transform="matrix(0.9327,0,0,1,439.72,0)" y="120.90">H</text><text transform="matrix(0.9973,0,0,1,461.51,0)" y="120.90">o</text><text transform="matrix(1.0105,0,0,1,479.52,0)" y="120.90">u</text><text transform="matrix(1.0600,0,0,1,498.62,0)" y="120.90">r</text><text transform="matrix(0.9879,0,0,1,519.62,0)" y="120.90">4</text><text transform="matrix(0.9521,0,0,1,538.13,0)" y="120.90">2</text><text transform="matrix(0.8000,0,0,1,566.28,0)" y="120.90">(</text><text transform="matrix(0.9887,0,0,1,577.46,0)" y="120.90">0</text><text transform="matrix(0.9887,0,0,1,596.04,0)" y="120.90">0</text><text transform="matrix(1.0181,0,0,1,614.21,0)" y="120.90">Z</text><text transform="matrix(0.9887,0,0,1,634.63,0)" y="120.90">0</text><text transform="matrix(0.9337,0,0,1,653.57,0)" y="120.90">5</text><text transform="matrix(0.9448,0,0,1,671.25,0)" y="120.90">A</text><text transform="matrix(0.9212,0,0,1,691.39,0)" y="120.90">U</text><text transform="matrix(0.9147,0,0,1,712.65,0)" y="120.90">G</text><text transform="matrix(0.9521,0,0,1,735.72,0)" y="120.90">2</text><text transform="matrix(0.9887,0,0,1,754.38,0)" y="120.90">0</text><text transform="matrix(0.9521,0,0,1,772.88,0)" y="120.90">2</text><text transform="matrix(0.9887,0,0,1,791.54,0)" y="120.90">0</text><text transform="matrix(0.8000,0,0,1,811.52,0)" y="120.90">)</text></g>
<g id="noaa">
<defs><clipPath id="nd"><circle cx="123.5" cy="62.3" r="30.3"/></clipPath>
<path id="narcT" d="M 89.2,66 A 34.4,34.4 0 1 1 157.8,66"/>
<path id="narcB" d="M 91.5,74 A 34.0,34.0 0 0 0 155.5,74"/>
</defs>
<circle cx="123.5" cy="62.3" r="36.2" fill="#fff"/>
<g clip-path="url(#nd)">
<circle cx="123.5" cy="62.3" r="30.3" fill="#1a8fe6"/>
<path d="M88,40 L101,41 L122,65.5 L129,65.5 L147,40 L160,40 L160,47 L151,48.5 L133,69.8 L118,70.2 L111,66.5 L100,58.5 L88,52 Z" fill="#fff"/>
<path d="M99.8,44.2 L121.6,67.6 L130.4,65.9 L146.8,43.6 L160,30 L88,30 Z" fill="#0a0a82"/>
<path d="M113.8,74.6 L121,72 L129,69.8 L137.8,68.2" fill="none" stroke="#fff" stroke-width="2.3" stroke-linecap="round"/>
</g>
<text x="111" y="51.7" font-family="'Liberation Sans', sans-serif" font-weight="bold" font-size="11.3" fill="#fff" textLength="24.8" lengthAdjust="spacingAndGlyphs">NOAA</text>
<text font-family="'Liberation Sans', sans-serif" font-size="4.2" fill="#1c1c88" font-weight="bold"><textPath href="#narcT" startOffset="0" textLength="121" lengthAdjust="spacingAndGlyphs">NATIONAL OCEANIC AND ATMOSPHERIC ADMINISTRATION</textPath></text>
<text font-family="'Liberation Sans', sans-serif" font-size="4.2" fill="#1c1c88" font-weight="bold"><textPath href="#narcB" startOffset="4" textLength="64" lengthAdjust="spacingAndGlyphs">U.S. DEPARTMENT OF COMMERCE</textPath></text>
</g>
<g id="nws">
<defs><clipPath id="wd"><circle cx="1204" cy="62.6" r="21.6"/></clipPath>
<path id="warc" d="M 1189.48,86.77 A 28.2,28.2 0 1 1 1215.47,88.36"/>
</defs>
<circle cx="1204" cy="62.6" r="21.6" fill="#fff"/>
<path d="M1182.95,57.74 A21.6,21.6 0 0 1 1225.05,57.74 L1216.67,59.68 A13.0,13.0 0 0 0 1191.33,59.68 Z" fill="#0a0a9a"/><g fill="#3aa8de"><path d="M1183.53,56.73 A21.3,21.3 0 0 1 1188.17,48.35 L1193.97,53.57 A13.5,13.5 0 0 0 1191.02,58.88 Z"/><path d="M1188.68,47.80 A21.3,21.3 0 0 1 1198.13,42.13 L1200.28,49.62 A13.5,13.5 0 0 0 1194.29,53.22 Z"/><path d="M1198.85,41.93 A21.3,21.3 0 0 1 1209.15,41.93 L1207.27,49.50 A13.5,13.5 0 0 0 1200.73,49.50 Z"/><path d="M1209.87,42.13 A21.3,21.3 0 0 1 1219.32,47.80 L1213.71,53.22 A13.5,13.5 0 0 0 1207.72,49.62 Z"/><path d="M1219.83,48.35 A21.3,21.3 0 0 1 1224.47,56.73 L1216.98,58.88 A13.5,13.5 0 0 0 1214.03,53.57 Z"/></g>
<g clip-path="url(#wd)">
<path d="M1185,80 Q1192,77 1199,78.5 Q1206,80 1212,78 Q1218,76.5 1224,78 L1226,90 L1182,90 Z" fill="#3aa8de" stroke="#0a0a9a" stroke-width="0.8"/>
</g>
<path d="M1180,56.8 L1183.9,54.2 L1189,53.8 L1193,53.6 L1196,50.5 L1199.5,48.4 L1206,48 L1212.5,49 L1216,51.5 L1219,54.2 L1222,55.5 L1225.5,56.8 L1229.4,59.4 L1228,63 L1225.5,65.3 L1222,67 L1219,68.5 L1214,70 L1210,71.5 L1207.3,72.4 L1203,74 L1199.5,74.4 L1195,74 L1191,73 L1188,71.5 L1186.5,70.5 L1183,70 L1180,69.2 Z" fill="#0000a0"/>
<circle cx="1204" cy="62.6" r="21.6" fill="none" stroke="#0a0a9a" stroke-width="0.9"/>
<path d="M1185.2,43.2 L1193,43.6 L1199.5,52.5 L1195.8,53 L1203.2,60.5 L1200.1,62.5 L1209.8,69.3 L1207.3,71.2 L1221.8,81.8 L1204.5,72.6 L1206.6,71.2 L1196.5,64 L1199.3,62.2 L1190.5,54.5 L1193,53.5 Z" fill="#fff" stroke="#0a0a9a" stroke-width="0.6"/>
<text font-family="'Liberation Sans', sans-serif" font-weight="bold" font-size="8.6" fill="#f01818" stroke="#f01818" stroke-width="0.35"><textPath href="#warc" textLength="148" lengthAdjust="spacing">NATIONAL WEATHER SERVICE</textPath></text>
<path d="M1194.60,90.90 L1195.17,92.42 L1196.79,92.49 L1195.52,93.50 L1195.95,95.06 L1194.60,94.17 L1193.25,95.06 L1193.68,93.50 L1192.41,92.49 L1194.03,92.42 Z" fill="#2424c8"/><path d="M1203.50,91.10 L1204.27,93.15 L1206.45,93.24 L1204.74,94.60 L1205.32,96.71 L1203.50,95.50 L1201.68,96.71 L1202.26,94.60 L1200.55,93.24 L1202.73,93.15 Z" fill="#f01818"/><path d="M1212.30,90.90 L1212.87,92.42 L1214.49,92.49 L1213.22,93.50 L1213.65,95.06 L1212.30,94.17 L1210.95,95.06 L1211.38,93.50 L1210.11,92.49 L1211.73,92.42 Z" fill="#2424c8"/>
</g>

</svg>
</body></html>
